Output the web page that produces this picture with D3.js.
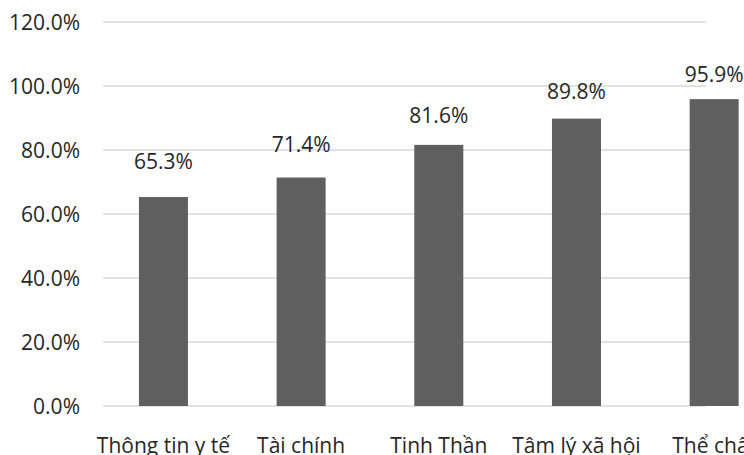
<!DOCTYPE html>
<html>
<head>
<meta charset="utf-8">
<script src="https://cdn.jsdelivr.net/npm/d3@7"></script>
<style>
  body { margin: 0; background: #fff; overflow: hidden; }
  svg text { font-family: "Open Sans", sans-serif; fill: #262626; }
</style>
</head>
<body>
<div id="chart"></div>
<script>
// chart data
const categories = ["Thông tin y tế", "Tài chính", "Tinh Thần", "Tâm lý xã hội", "Thể chất"];
const values = [65.3, 71.4, 81.6, 89.8, 95.9];
const yTicks = [0, 20, 40, 60, 80, 100, 120];

const width = 744, height = 455;

let svg = d3.select("#chart").append("svg")
    .attr("width", width)
    .attr("height", height);

// scales
let x = d3.scaleBand()
    .domain(categories)
    .range([94.6, 783])
    .paddingInner(0.644)
    .paddingOuter(0.322);

let y = d3.scaleLinear()
    .domain([0, 120])
    .range([406, 22]);

// data labels sit closer to the taller bars in the original
let yLabel = d3.scaleLinear()
    .domain([65.3, 95.9])
    .range([169, 82]);

// gridlines (plot area ends before the last bar in the original)
let gridLeft = 103, gridRight = 706;
svg.append("g").selectAll("line")
    .data(yTicks)
    .enter().append("line")
    .attr("x1", gridLeft)
    .attr("x2", gridRight)
    .attr("y1", d => y(d))
    .attr("y2", d => y(d))
    .attr("stroke", "#d9d9d9")
    .attr("stroke-width", 1.3);

// y axis labels
let yAxis = d3.axisLeft(y)
    .tickValues(yTicks)
    .tickSize(0)
    .tickPadding(0)
    .tickFormat(d => d.toFixed(1) + "%");

svg.append("g")
    .attr("class", "y-axis")
    .attr("transform", "translate(80,0)")
    .call(yAxis)
    .call(g => g.select(".domain").remove())
    .selectAll("text")
    .style("font-size", "21px")
    .attr("dy", "0.35em");

// bars
svg.append("g").selectAll("rect")
    .data(values)
    .enter().append("rect")
    .attr("x", (d, i) => x(categories[i]))
    .attr("width", x.bandwidth())
    .attr("y", d => y(d))
    .attr("height", d => y(0) - y(d))
    .attr("fill", "#5f5f5f");

// value labels
svg.append("g").selectAll("text")
    .data(values)
    .enter().append("text")
    .attr("x", (d, i) => x(categories[i]) + x.bandwidth() / 2)
    .attr("y", d => yLabel(d))
    .attr("text-anchor", "middle")
    .style("font-size", "21px")
    .text(d => d.toFixed(1) + "%");

// x axis labels
let xAxis = d3.axisBottom(x).tickSize(0).tickPadding(0);
svg.append("g")
    .attr("class", "x-axis")
    .attr("transform", "translate(0,453)")
    .call(xAxis)
    .call(g => g.select(".domain").remove())
    .selectAll("text")
    .attr("dy", 0)
    .style("font-size", "21px");
</script>
</body>
</html>
